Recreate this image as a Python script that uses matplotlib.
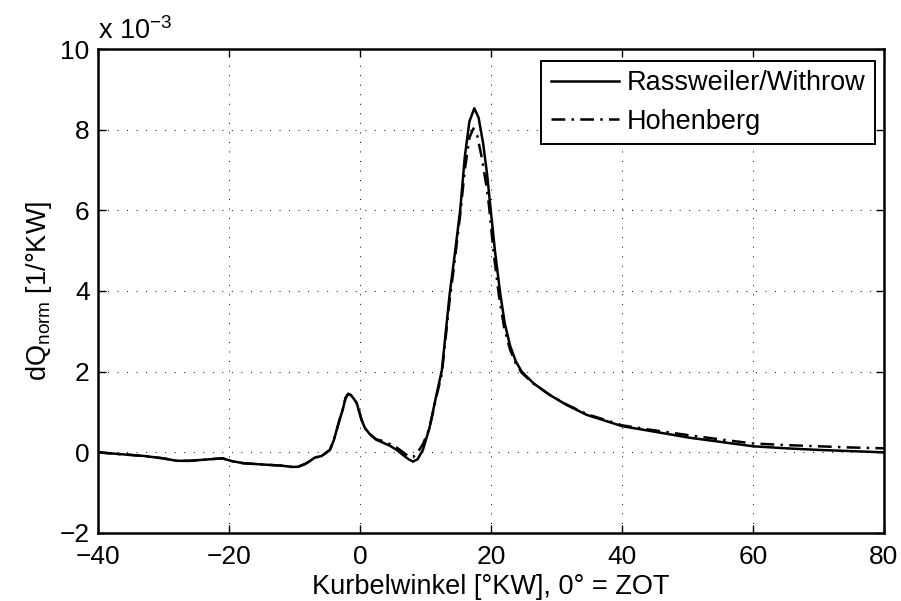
import matplotlib
matplotlib.use("Agg")
import matplotlib.pyplot as plt

plt.rcParams['font.family'] = ['Liberation Sans', 'DejaVu Sans']
plt.rcParams['mathtext.fontset'] = 'custom'
plt.rcParams['mathtext.rm'] = 'Liberation Sans'
plt.rcParams['mathtext.it'] = 'Liberation Sans:italic'

# crank angle [deg KW] and normalised heat release (x 1e-3)
x_rw = [-40, -37, -33, -30, -28, -26, -24.4, -22, -21, -19.5, -17.8, -15, -12, -10.5,
        -9.5, -8.4, -7.5, -6.9, -5.85, -4.6, -4.0, -3.6, -3.1, -2.65, -2.2, -1.8, -1.4,
        -1.0, -0.5, 0.25, 0.76, 1.5, 2.5, 3.5, 4.6, 5.6, 6.6, 7.4, 8.1, 8.8, 9.6, 10.6,
        11.7, 12.5, 13.7, 14.5, 15.3, 16.0, 16.7, 17.45, 18.1, 18.8, 19.4, 19.9, 20.6,
        21.4, 22.1, 22.9, 23.8, 24.7, 26.5, 29.0, 31.6, 34.6, 40, 44.3, 50.4, 55, 60,
        65, 70, 75, 80]
y_rw = [0.00, -0.04, -0.09, -0.15, -0.21, -0.21, -0.19, -0.16, -0.15, -0.22, -0.27, -0.30,
        -0.33, -0.36, -0.36, -0.29, -0.20, -0.13, -0.09, 0.06, 0.30, 0.53, 0.82, 1.05, 1.35,
        1.45, 1.42, 1.34, 1.22, 0.80, 0.60, 0.45, 0.31, 0.24, 0.16, 0.06, -0.07, -0.17,
        -0.23, -0.17, 0.06, 0.60, 1.45, 2.04, 3.94, 4.95, 6.01, 7.33, 8.20, 8.53, 8.30,
        7.66, 6.90, 6.10, 5.00, 3.95, 3.20, 2.65, 2.25, 2.00, 1.71, 1.42, 1.17, 0.93, 0.65,
        0.53, 0.36, 0.26, 0.15, 0.10, 0.06, 0.03, 0.00]

x_hb = [-40, -37, -33, -30, -28, -26, -24.4, -22, -21, -19.5, -17.8, -15, -12, -10.5,
        -9.5, -8.4, -7.5, -6.9, -5.85, -4.6, -4.0, -3.6, -3.1, -2.65, -2.2, -1.8, -1.4,
        -1.0, -0.5, 0.25, 0.76, 1.5, 2.5, 3.5, 4.6, 5.6, 6.6, 7.4, 8.1, 8.8, 9.6, 10.6,
        11.7, 12.5, 13.7, 14.5, 15.3, 16.0, 16.7, 17.3, 17.9, 18.6, 19.4, 19.7, 20.4,
        21.2, 22.0, 22.9, 23.8, 24.7, 26.5, 29.0, 31.6, 34.6, 40, 44.3, 50.4, 55, 60,
        65, 70, 75, 80]
y_hb = [0.00, -0.04, -0.09, -0.15, -0.21, -0.21, -0.19, -0.16, -0.15, -0.22, -0.27, -0.30,
        -0.33, -0.36, -0.36, -0.29, -0.20, -0.13, -0.09, 0.06, 0.30, 0.53, 0.82, 1.05, 1.35,
        1.45, 1.42, 1.34, 1.22, 0.80, 0.60, 0.45, 0.32, 0.28, 0.20, 0.12, 0.00, -0.10,
        -0.12, 0.00, 0.20, 0.60, 1.40, 1.95, 3.80, 4.80, 5.90, 7.00, 7.80, 8.03, 7.85,
        7.30, 6.50, 6.10, 4.95, 3.90, 3.10, 2.55, 2.20, 1.97, 1.70, 1.42, 1.18, 0.95, 0.67,
        0.56, 0.42, 0.32, 0.22, 0.18, 0.15, 0.12, 0.10]

x_ticks = [-40, -20, 0, 20, 40, 60, 80]
y_ticks = [-2, 0, 2, 4, 6, 8, 10]
labels = ['Rassweiler/Withrow', 'Hohenberg']

FS = 19
FS2 = 19.5

fig = plt.figure(figsize=(9.01, 6.01), dpi=100)
ax = fig.add_axes([98/901, 68/601, 786/901, 484/601])

ax.plot(x_rw, y_rw, color='black', lw=1.8, label=labels[0])
ax.plot(x_hb, y_hb, color='black', lw=1.8, dashes=(5.5, 2.5, 1, 2.5), label=labels[1])

ax.set_xlim(-40, 80)
ax.set_ylim(-2, 10)
ax.set_xticks(x_ticks)
ax.set_yticks(y_ticks)
ax.grid(True, color='black', linestyle=(0, (1, 8.8)), linewidth=0.7)
ax.tick_params(direction='in', top=True, right=True, length=6, width=1, labelsize=FS)
ax.tick_params(axis='x', pad=9)
ax.tick_params(axis='y', pad=6)
for s in ax.spines.values():
    s.set_linewidth(1.8)

ax.set_xlabel('Kurbelwinkel [°KW], 0° = ZOT', fontsize=FS2, labelpad=3)
ax.set_ylabel(r'dQ$_{\mathregular{norm}}$ [1/°KW]', fontsize=FS2, labelpad=4)
ax.text(0.0, (533 - 39) / 484, r'x 10$^{\mathregular{-3}}$', transform=ax.transAxes,
        fontsize=FS2, ha='left', va='baseline')

leg = ax.legend(loc='upper right', bbox_to_anchor=((875 - 98) / 786, (533 - 61) / 484),
                fontsize=FS2, frameon=True, fancybox=False, edgecolor='black',
                framealpha=1, handlelength=2.5, borderaxespad=0, borderpad=0.35,
                labelspacing=0.45, handletextpad=0.3)
leg.get_frame().set_linewidth(1.4)

fig.savefig('out.png', dpi=100)
